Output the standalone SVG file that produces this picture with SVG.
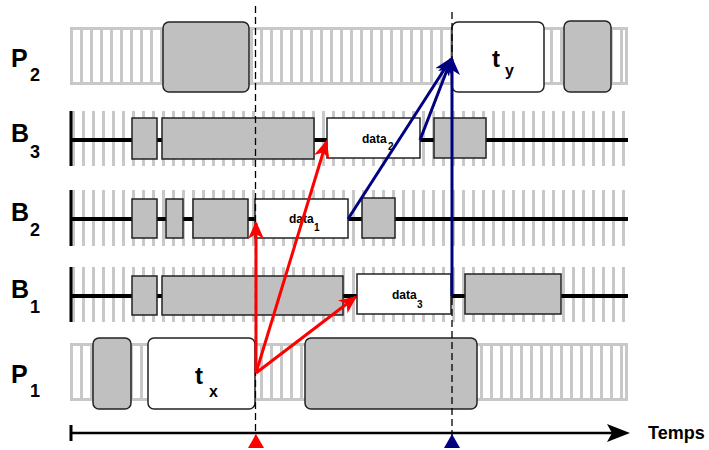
<svg xmlns="http://www.w3.org/2000/svg" width="709" height="450" viewBox="0 0 709 450">
<style>
.lbl{font-family:"Liberation Sans",Arial,sans-serif;font-weight:bold;fill:#000}
.big{font-size:25px}
.sub{font-size:18px}
.t{font-size:24px}
.ts{font-size:16px}
.d{font-size:12px}
.ds{font-size:10px}
.g{fill:#c0c0c0;stroke:#222;stroke-width:1.5}
.w{fill:#fff;stroke:#222;stroke-width:1.5}
.band{fill:url(#ps);stroke:#c8c8c8;stroke-width:3}
.brow{fill:url(#bs)}
.bus{stroke:#000;stroke-width:4}
.tick{stroke:#000;stroke-width:3}
.dash{stroke:#000;stroke-width:1.3;stroke-dasharray:7 4;fill:none}
.red{stroke:#ff0000;stroke-width:3;fill:none}
.blue{stroke:#000080;stroke-width:3;fill:none}
</style>
<defs>
<pattern id="ps" patternUnits="userSpaceOnUse" x="70" y="0" width="10" height="10"><rect x="0" y="0" width="3" height="10" fill="#c8c8c8"/></pattern>
<pattern id="bs" patternUnits="userSpaceOnUse" x="72" y="0" width="10" height="10"><rect x="0" y="0" width="3" height="10" fill="#c8c8c8"/></pattern>
<marker id="ar" viewBox="0 0 18 16" refX="16" refY="8" markerWidth="18" markerHeight="16" markerUnits="userSpaceOnUse" orient="auto"><path d="M0,0 L18,8 L0,16 L5,8 z" fill="#ff0000"/></marker>
<marker id="ab" viewBox="0 0 18 16" refX="16" refY="8" markerWidth="18" markerHeight="16" markerUnits="userSpaceOnUse" orient="auto"><path d="M0,0 L18,8 L0,16 L5,8 z" fill="#000080"/></marker>
</defs>

<g id="rows">
<rect class="band" x="71.5" y="28.5" width="555" height="55"/>
<rect class="band" x="71.5" y="344.5" width="555" height="55"/>
<rect class="brow" x="70" y="111" width="558" height="55"/>
<rect class="brow" x="70" y="190" width="558" height="56"/>
<rect class="brow" x="70" y="267" width="558" height="55"/>
<line class="bus" x1="70" y1="140" x2="628" y2="140"/>
<line class="bus" x1="70" y1="219" x2="628" y2="219"/>
<line class="bus" x1="70" y1="296" x2="628" y2="296"/>
<line class="tick" x1="71" y1="111" x2="71" y2="166"/>
<line class="tick" x1="71" y1="190" x2="71" y2="246"/>
<line class="tick" x1="71" y1="267" x2="71" y2="322"/>
</g>

<g id="labels">
<text class="lbl big" x="11" y="67">P</text><text class="lbl sub" x="30" y="81">2</text>
<text class="lbl big" x="11" y="142">B</text><text class="lbl sub" x="30" y="158">3</text>
<text class="lbl big" x="11" y="221">B</text><text class="lbl sub" x="30" y="236">2</text>
<text class="lbl big" x="11" y="298">B</text><text class="lbl sub" x="30" y="313">1</text>
<text class="lbl big" x="11" y="383">P</text><text class="lbl sub" x="30" y="397">1</text>
</g>

<g id="P2">
<rect class="g" x="163" y="22" width="86" height="70" rx="6"/>
<g id="ty"><rect class="w" x="452" y="22" width="92" height="70" rx="6"/>
<text class="lbl t" x="492" y="67">t</text><text class="lbl ts" x="505" y="76">y</text></g>
<rect class="g" x="564" y="21" width="47" height="71" rx="6"/>
</g>

<g id="B3">
<rect class="g" x="132" y="118" width="25" height="41"/>
<rect class="g" x="162" y="118" width="152" height="41"/>
<g id="data2"><rect class="w" x="327" y="118" width="93" height="40"/>
<text class="lbl d" x="362" y="143">data</text><text class="lbl ds" x="388" y="150">2</text></g>
<rect class="g" x="434" y="118" width="52" height="40"/>
</g>

<g id="B2">
<rect class="g" x="132" y="199" width="25" height="39"/>
<rect class="g" x="166" y="199" width="17" height="39"/>
<rect class="g" x="193" y="199" width="55" height="39"/>
<g id="data1"><rect class="w" x="255" y="199" width="93" height="39"/>
<text class="lbl d" x="289" y="223">data</text><text class="lbl ds" x="314" y="231">1</text></g>
<rect class="g" x="362" y="198" width="33" height="40"/>
</g>

<g id="B1">
<rect class="g" x="132" y="276" width="25" height="39"/>
<rect class="g" x="162" y="276" width="181" height="39"/>
<g id="data3"><rect class="w" x="357" y="274" width="94" height="40"/>
<text class="lbl d" x="392" y="299">data</text><text class="lbl ds" x="417" y="308">3</text></g>
<rect class="g" x="465" y="274" width="96" height="40"/>
</g>

<g id="P1">
<rect class="g" x="93" y="338" width="38" height="71" rx="6"/>
<g id="tx"><rect class="w" x="148" y="338" width="107" height="71" rx="6"/>
<text class="lbl t" x="195" y="384">t</text><text class="lbl ts" x="209" y="397">x</text></g>
<rect class="g" x="305" y="338" width="172" height="71" rx="6"/>
</g>

<g id="connectors">
<line class="dash" x1="255.5" y1="6" x2="255.5" y2="440"/>
<line class="dash" x1="452" y1="12" x2="452" y2="440"/>
<line class="red" x1="256" y1="373" x2="256" y2="223" marker-end="url(#ar)"/>
<line class="red" x1="256" y1="373" x2="326.3" y2="142" marker-end="url(#ar)"/>
<line class="red" x1="256" y1="373" x2="355.4" y2="297.2" marker-end="url(#ar)"/>
<line class="blue" x1="348" y1="219" x2="451" y2="59" marker-end="url(#ab)"/>
<line class="blue" x1="420" y1="140" x2="451.3" y2="59" marker-end="url(#ab)"/>
<line class="blue" x1="452" y1="296" x2="452" y2="59" marker-end="url(#ab)"/>
</g>

<g id="axis">
<line x1="71" y1="433" x2="616" y2="433" stroke="#000" stroke-width="2.5"/>
<line class="tick" x1="71" y1="425" x2="71" y2="441"/>
<path d="M607,424 L630,433 L607,442 L612,433 z" fill="#000"/>
<polygon points="256,434 248,448 264,448" fill="#ff0000"/>
<polygon points="452,434 444,448 460,448" fill="#000080"/>
<text class="lbl" x="648" y="439" font-size="18">Temps</text>
</g>
</svg>
